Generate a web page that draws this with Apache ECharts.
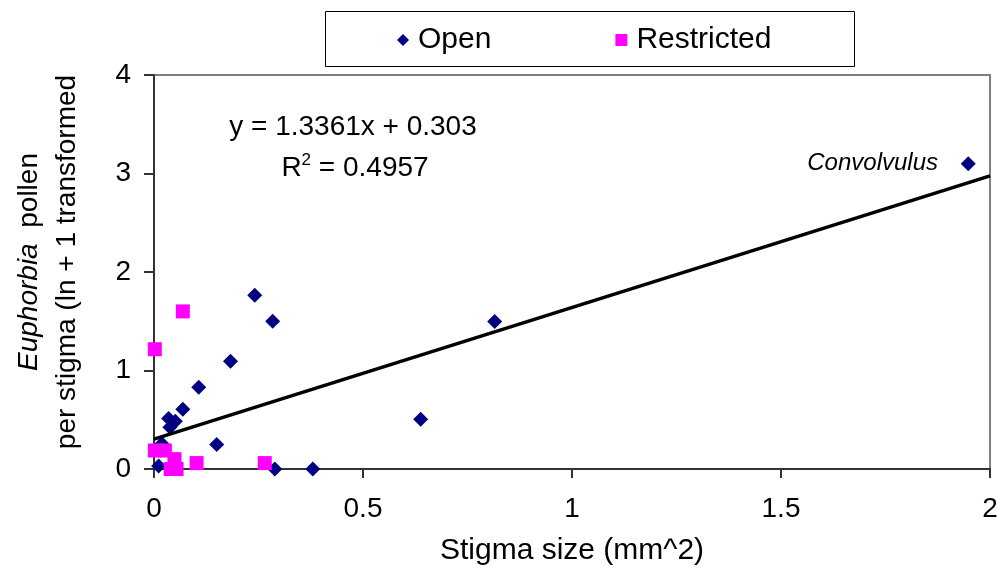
<!DOCTYPE html>
<html>
<head>
<meta charset="utf-8">
<script src="https://cdn.jsdelivr.net/npm/echarts@6/dist/echarts.min.js"></script>
<style>
html,body{margin:0;padding:0;background:#fff;}
#chart{width:1002px;height:575px;}
</style>
</head>
<body>
<div id="chart"></div>
<script>
// ---- data ----
const openX = [0.241, 0.284, 0.183, 0.107, 0.069, 0.035, 0.051, 0.038, 0.150, 0.019, 0.011, 0.289, 0.380, 0.638, 0.815, 1.948];
const openY = [1.765, 1.500, 1.094, 0.830, 0.607, 0.513, 0.485, 0.424, 0.249, 0.256, 0.030, 0.000, 0.000, 0.506, 1.497, 3.100];
const restrictedX = [0.069, 0.002, 0.002, 0.026, 0.049, 0.040, 0.054, 0.102, 0.265];
const restrictedY = [1.600, 1.216, 0.188, 0.188, 0.100, 0.000, 0.000, 0.060, 0.060];
const trendSlope = 1.3361;
const trendIntercept = 0.303;
const trendX = [0, 2];
const xTicks = [0, 0.5, 1, 1.5, 2];
const yTicks = [0, 1, 2, 3, 4];
const seriesNames = ['Open', 'Restricted'];
const equationText = 'y = 1.3361x + 0.303';
const r2Value = '0.4957';
const pointLabel = 'Convolvulus';

const FONT = '"Liberation Sans", Arial, sans-serif';
const openData = openX.map((x, i) => [x, openY[i]]);
const restrictedData = restrictedX.map((x, i) => [x, restrictedY[i]]);
const trendData = trendX.map(x => [x, trendSlope * x + trendIntercept]);

const chart = echarts.init(document.getElementById('chart'), null, {renderer: 'canvas'});
const option = {
  animation: false,
  backgroundColor: '#ffffff',
  textStyle: {fontFamily: FONT},
  grid: {left: 154, right: 12, top: 75, bottom: 106, show: true, borderColor: '#808080', borderWidth: 2, backgroundColor: 'transparent'},
  legend: {
    data: [
      {name: seriesNames[0], icon: 'diamond'},
      {name: seriesNames[1], icon: 'rect'}
    ],
    left: 392, top: 20,
    itemWidth: 12, itemHeight: 12,
    itemGap: 124,
    itemStyle: {opacity: 1},
    textStyle: {fontFamily: FONT, fontSize: 30, color: '#000', padding: [0, 0, 0, 4]}
  },
  xAxis: {
    type: 'value', min: 0, max: 2, interval: 0.5,
    name: 'Stigma size (mm^2)', nameLocation: 'middle', nameGap: 67,
    nameTextStyle: {fontFamily: FONT, fontSize: 30, color: '#000'},
    axisLine: {show: true, onZero: false, lineStyle: {color: '#333', width: 2}},
    axisTick: {show: true, inside: false, length: 9, lineStyle: {color: '#333', width: 2}},
    axisLabel: {fontFamily: FONT, fontSize: 28, color: '#000', margin: 26, formatter: v => String(xTicks.find(t => Math.abs(t - v) < 1e-9) ?? v)},
    splitLine: {show: false}
  },
  yAxis: {
    type: 'value', min: 0, max: 4, interval: 1,
    axisLine: {show: true, onZero: false, lineStyle: {color: '#333', width: 2}},
    axisTick: {show: true, inside: false, length: 10, lineStyle: {color: '#333', width: 2}},
    axisLabel: {fontFamily: FONT, fontSize: 28, color: '#000', margin: 23, formatter: v => String(yTicks.find(t => Math.abs(t - v) < 1e-9) ?? v)},
    splitLine: {show: false}
  },
  series: [
    {name: seriesNames[0], type: 'scatter', symbol: 'diamond', symbolSize: 15, itemStyle: {color: '#000080', opacity: 1}, data: openData, z: 3},
    {name: seriesNames[1], type: 'scatter', symbol: 'rect', symbolSize: 14, itemStyle: {color: '#FF00FF', opacity: 1}, data: restrictedData, z: 4},
    {name: 'trend', type: 'line', data: trendData, symbol: 'none', lineStyle: {color: '#000', width: 3.5}, z: 5, silent: true}
  ],
  graphic: [
    {type: 'rect', left: 323, top: 9, shape: {width: 529, height: 55}, style: {fill: 'none', stroke: '#000', lineWidth: 1}, z: 1},
    {type: 'text', x: 353, y: 127, style: {text: equationText, font: '28px ' + FONT, fill: '#000', textAlign: 'center', textVerticalAlign: 'middle'}},
    {type: 'text', x: 355, y: 168, style: {
      text: '{a|R}{s|2}{a| = ' + r2Value + '}',
      textAlign: 'center', textVerticalAlign: 'middle',
      rich: {
        a: {fontFamily: FONT, fontSize: 28, fill: '#000', lineHeight: 32},
        s: {fontFamily: FONT, fontSize: 17, fill: '#000', verticalAlign: 'top', lineHeight: 32}
      }
    }},
    {type: 'text', x: 938, y: 163, style: {text: pointLabel, font: 'italic 24px ' + FONT, fill: '#000', textAlign: 'right', textVerticalAlign: 'middle'}},
    {type: 'text', x: 29, y: 262, rotation: Math.PI / 2, style: {
      text: '{i|Euphorbia}{n|  pollen}',
      textAlign: 'center', textVerticalAlign: 'middle',
      rich: {
        i: {fontFamily: FONT, fontSize: 28, fontStyle: 'italic', fill: '#000'},
        n: {fontFamily: FONT, fontSize: 28, fill: '#000'}
      }
    }},
    {type: 'text', x: 67, y: 262, rotation: Math.PI / 2, style: {text: 'per stigma (ln + 1 transformed', font: '28px ' + FONT, fill: '#000', textAlign: 'center', textVerticalAlign: 'middle'}}
  ]
};
chart.setOption(option);
</script>
</body>
</html>
